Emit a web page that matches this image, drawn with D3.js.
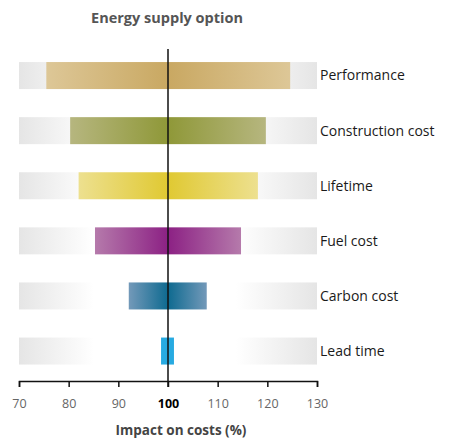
<!DOCTYPE html>
<html>
<head>
<meta charset="utf-8">
<script src="https://cdn.jsdelivr.net/npm/d3@7"></script>
<style>
  html, body { margin: 0; padding: 0; background: #fff; }
  svg { display: block; font-family: "Open Sans", sans-serif; }
</style>
</head>
<body>
<svg id="chart" width="451" height="441"></svg>
<script>
// Range of cost impact (% of baseline) for each energy-supply factor
const categories = ["Performance", "Construction cost", "Lifetime", "Fuel cost", "Carbon cost", "Lead time"];
const lowValues  = [75.5, 80.3, 82, 85.3, 92.1, 98.6];
const highValues = [124.6, 119.7, 118.1, 114.7, 107.8, 101.2];
const tickValues = [70, 80, 90, 100, 110, 120, 130];
const baseline = 100;

// Palette: strong colour at the baseline, paler towards the ends of each bar
const centerColors = ["#c9a862", "#8f9838", "#e0c932", "#8c2184", "#0e6a90", "#27aae1"];
const edgeColors   = ["#ddc797", "#b6b67f", "#ede08f", "#b57aab", "#7399b9", "#27aae1"];

const svg = d3.select("#chart");
const defs = svg.append("defs");

const x = d3.scaleLinear().domain([70, 130]).range([19, 317]);
const y = d3.scaleBand().domain(categories).range([48, 378.6]).paddingInner(0.51).paddingOuter(0.255);

// Faded grey backgrounds at both ends of every row
const fadeL = defs.append("linearGradient").attr("id", "fadeL");
fadeL.append("stop").attr("offset", 0).attr("stop-color", "#e5e5e5");
fadeL.append("stop").attr("offset", 1).attr("stop-color", "#ffffff");
const fadeR = defs.append("linearGradient").attr("id", "fadeR");
fadeR.append("stop").attr("offset", 0).attr("stop-color", "#ffffff");
fadeR.append("stop").attr("offset", 1).attr("stop-color", "#e5e5e5");

const rows = svg.append("g").selectAll("g").data(categories).join("g")
  .attr("transform", d => `translate(0,${y(d)})`);

rows.append("rect")
  .attr("x", x(70)).attr("width", x(85.1) - x(70))
  .attr("height", y.bandwidth()).attr("fill", "url(#fadeL)");
rows.append("rect")
  .attr("x", x(113.7)).attr("width", x(130) - x(113.7))
  .attr("height", y.bandwidth()).attr("fill", "url(#fadeR)");

// Bar gradients centred on the baseline
categories.forEach((c, i) => {
  const lo = lowValues[i], hi = highValues[i];
  const mid = (baseline - lo) / (hi - lo);
  const g = defs.append("linearGradient").attr("id", "bar" + i);
  g.append("stop").attr("offset", 0).attr("stop-color", edgeColors[i]);
  g.append("stop").attr("offset", mid).attr("stop-color", centerColors[i]);
  g.append("stop").attr("offset", 1).attr("stop-color", edgeColors[i]);
});

rows.append("rect")
  .attr("x", (d, i) => x(lowValues[i]))
  .attr("width", (d, i) => x(highValues[i]) - x(lowValues[i]))
  .attr("height", y.bandwidth())
  .attr("fill", (d, i) => `url(#bar${i})`);

// Row labels
rows.append("text")
  .attr("x", x(130) + 3).attr("y", y.bandwidth() / 2)
  .attr("dy", "0.35em")
  .attr("font-size", 14).attr("fill", "#1a1a1a")
  .attr("textLength", null)
  .text(d => d);

// Baseline
svg.append("line")
  .attr("x1", x(baseline)).attr("x2", x(baseline))
  .attr("y1", 49).attr("y2", 387)
  .attr("stroke", "#111").attr("stroke-width", 1.5);

// Bottom axis
const axisY = 381;
const axis = svg.append("g").attr("transform", `translate(0,${axisY})`)
  .call(d3.axisBottom(x).tickValues(tickValues).tickSize(6).tickSizeOuter(6).tickPadding(12).tickFormat(d3.format("d")));
axis.select(".domain").attr("stroke", "#111").attr("stroke-width", 1.5);
axis.selectAll(".tick line").attr("stroke", "#111").attr("stroke-width", 1.5);
axis.selectAll(".tick text")
  .attr("font-family", "'Open Sans', sans-serif")
  .attr("font-size", 12.5)
  .attr("fill", d => d === baseline ? "#000" : "#666")
  .attr("font-weight", d => d === baseline ? "bold" : "normal");

// Titles
svg.append("text")
  .attr("x", 167).attr("y", 18).attr("dy", "0.35em")
  .attr("text-anchor", "middle")
  .attr("font-size", 14.5).attr("font-weight", "bold").attr("fill", "#555")
  .text("Energy supply option");

svg.append("text")
  .attr("x", 181).attr("y", 430).attr("dy", "0.35em")
  .attr("text-anchor", "middle")
  .attr("font-size", 13.5).attr("font-weight", "bold").attr("fill", "#444")
  .text("Impact on costs (%)");
</script>
</body>
</html>
